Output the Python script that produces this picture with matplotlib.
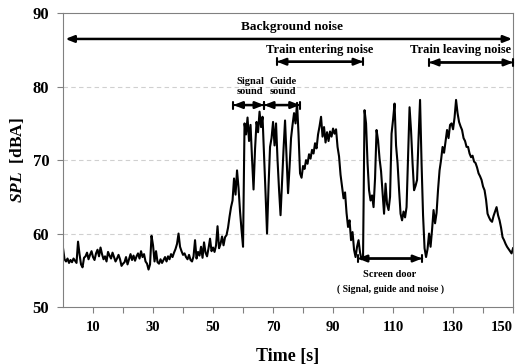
import numpy as np
import matplotlib
matplotlib.use("Agg")
import matplotlib.pyplot as plt

plt.rcParams['font.family'] = ['Liberation Serif', 'DejaVu Serif']
plt.rcParams['font.weight'] = 'bold'
plt.rcParams['mathtext.fontset'] = 'custom'
plt.rcParams['mathtext.it'] = 'Liberation Serif:italic:bold'
plt.rcParams['mathtext.rm'] = 'Liberation Serif:bold'

# SPL, one value every 0.5 s from 0 to 150 s
spl_0_30 = [58.0, 56.5, 56.2, 56.6, 56.0, 56.4, 56.1, 56.6, 56.3, 56.0, 58.9, 57.2, 55.8, 55.4, 56.7, 56.9, 57.4, 56.5, 57.1, 57.6, 56.8,
            56.4, 57.3, 57.8, 56.9, 58.1, 57.2, 56.5, 56.9, 56.2, 57.5, 57.0, 56.6, 57.4, 56.8, 56.2, 56.6, 57.1, 56.5, 55.6, 55.9,
            56.1, 56.8, 55.8, 56.5, 57.2, 56.4, 57.0, 56.3, 56.9, 57.3, 56.6, 57.6, 56.8, 57.2, 56.2, 55.9, 55.1, 55.8, 59.7, 58.4]
spl_30_60 = [56.2, 57.6, 56.1, 55.9, 56.5, 56.0, 56.4, 56.8, 56.2, 56.9, 56.5, 57.2, 56.8, 57.4, 57.9, 58.6, 60.0, 58.2, 57.6, 57.1,
             57.3, 56.8, 56.5, 57.1, 56.4, 56.2, 56.9, 59.1, 56.6, 57.5, 57.0, 58.2, 56.7, 58.8, 57.4, 56.9, 58.0, 59.3, 57.6, 58.1,
             57.5, 58.4, 61.0, 58.0, 58.6, 59.6, 58.4, 59.5, 59.8, 60.8, 62.3, 63.6, 64.5, 67.5, 65.3, 68.6, 66.2, 63.0, 60.5, 58.2]
spl_60_90 = [75.0, 73.5, 75.8, 72.6, 74.8, 70.2, 66.0, 71.5, 75.2, 73.8, 76.6, 74.5, 75.9, 70.8, 65.5, 60.0, 66.5, 71.8, 73.0, 75.2,
             72.0, 75.0, 70.0, 66.0, 62.5, 67.0, 71.5, 75.4, 70.5, 65.5, 69.0, 73.0, 74.8, 76.4, 75.0, 77.8, 73.5, 68.2, 67.6, 69.2,
             68.8, 70.0, 69.5, 70.8, 70.2, 71.4, 70.9, 72.3, 71.6, 73.5, 74.6, 75.9, 73.2, 74.5, 72.4, 73.8, 72.6, 73.9, 73.2, 74.3]
spl_90_120 = [73.6, 74.2, 71.8, 70.5, 68.0, 66.4, 64.8, 65.6, 62.8, 60.9, 61.8, 59.1, 60.2, 57.8, 56.8, 58.2, 59.1, 57.4, 56.5, 56.9,
              76.8, 75.0, 69.6, 65.9, 64.5, 65.2, 63.6, 67.5, 74.1, 72.7, 70.2, 68.5, 65.5, 62.7, 66.8, 64.0, 63.2, 65.0, 73.6, 75.5,
              77.7, 72.0, 69.6, 66.0, 62.7, 61.8, 63.0, 62.2, 63.6, 70.5, 77.2, 74.0, 69.6, 65.9, 66.5, 67.3, 73.0, 78.2, 69.6, 62.5]
spl_120_150 = [58.0, 56.8, 57.9, 60.0, 58.2, 60.5, 63.2, 61.4, 62.8, 66.0, 68.6, 70.0, 71.8, 71.0, 72.5, 74.1, 73.0, 74.8, 75.0, 74.2,
               75.8, 78.2, 76.4, 75.2, 74.6, 74.1, 73.0, 72.6, 71.8, 71.8, 70.9, 70.4, 70.6, 69.8, 69.6, 69.0, 68.2, 67.8, 67.3, 66.4,
               65.9, 64.6, 62.7, 62.2, 61.8, 61.6, 62.4, 63.0, 63.6, 62.5, 61.8, 60.8, 59.5, 59.1, 58.6, 58.2, 57.9, 57.6, 57.3, 58.0]

spl = spl_0_30 + spl_30_60 + spl_60_90 + spl_90_120 + spl_120_150
time = np.arange(len(spl)) * 0.5

x_ticks = np.arange(10, 151, 10)
x_labels = [str(t) if t % 20 == 10 else '' for t in x_ticks]
y_ticks = [50, 60, 70, 80, 90]

fig = plt.figure(figsize=(5.23, 3.64), dpi=100)
ax = fig.add_axes([0.1205, 0.1566, 0.8605, 0.807])

ax.plot(time, spl, color='black', lw=1.5)

ax.set_xlim(0, 150)
ax.set_ylim(50, 90)
ax.set_xticks(x_ticks)
ax.set_xticklabels(x_labels, fontsize=10.5, fontweight='bold')
ax.get_xticklabels()[-1].set_horizontalalignment('right')
ax.set_yticks(y_ticks)
ax.set_yticklabels(y_ticks, fontsize=12, fontweight='bold')
ax.tick_params(direction='out', length=4, color='#808080', pad=6)
for s in ax.spines.values():
    s.set_color('#808080')
for g in [60, 70, 80]:
    ax.axhline(g, color='#d0d0d0', lw=0.8, ls=(0, (4, 3)), zorder=0)

ax.set_xlabel('Time [s]', fontsize=13, fontweight='bold', labelpad=10)
ax.set_ylabel(r'$SPL$  [dBA]', fontsize=12.5, fontweight='bold', labelpad=5)


def span(x0, x1, y, bars=True):
    ax.annotate('', xy=(x1, y), xytext=(x0, y),
                arrowprops=dict(arrowstyle='<|-|>,head_length=0.5,head_width=0.2', color='black', lw=1.8,
                                shrinkA=0, shrinkB=0))
    if bars:
        ax.annotate('', xy=(x1, y), xytext=(x0, y),
                    arrowprops=dict(arrowstyle='|-|,widthA=0.25,widthB=0.25', color='black', lw=1.5,
                                    shrinkA=0, shrinkB=0))


span(0.8, 149.7, 86.5, bars=False)
ax.text(76.3, 88.1, 'Background noise', ha='center', va='center', fontsize=9.5)

span(71.3, 100.0, 83.4)
ax.text(85.7, 85.0, 'Train entering noise', ha='center', va='center', fontsize=9)

span(122.0, 150.0, 83.3)
ax.text(132.5, 85.0, 'Train leaving noise', ha='center', va='center', fontsize=9)

span(56.8, 67.0, 77.5)
span(67.0, 78.9, 77.5)
ax.text(62.3, 80.0, 'Signal\nsound', ha='center', va='center', fontsize=7.5, linespacing=1.1)
ax.text(73.3, 80.0, 'Guide\nsound', ha='center', va='center', fontsize=7.5, linespacing=1.1)

span(98.3, 119.7, 56.6)
ax.text(109.0, 54.4, 'Screen door', ha='center', va='center', fontsize=7.5)
ax.text(109.0, 52.4, '( Signal, guide and noise )', ha='center', va='center', fontsize=7)

fig.savefig('out.png', dpi=100)
